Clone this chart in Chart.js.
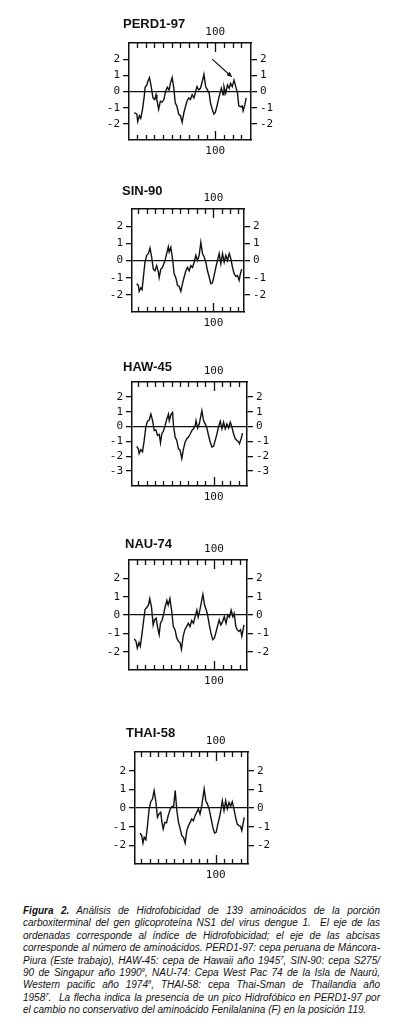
<!DOCTYPE html>
<html lang="es">
<head>
  <meta charset="UTF-8" />
  <title>Figura 2 - Hidrofobicidad NS1 dengue 1</title>
  <script src="https://cdn.jsdelivr.net/npm/chart.js"></script>
  <style>
    body {
      margin: 0;
      background: #fff;
      width: 400px;
      height: 1030px;
      position: relative;
      overflow: hidden;
    }
    canvas { position: absolute; left: 90px; }
    .title {
      position: absolute;
      font: bold 13px "Liberation Sans", Arial, sans-serif;
      color: #111;
      line-height: 13px;
      z-index: 2;
    }
    .caption {
      position: absolute;
      left: 23px;
      top: 905px;
      width: 357px;
      font: italic 10px "Liberation Sans", Arial, sans-serif;
      color: #111;
    }
    .caption div {
      line-height: 12.4px;
      text-align: justify;
      text-align-last: justify;
    }
    .caption div.last { text-align-last: left; }
    .caption sup { font-size: 6px; line-height: 0; }
  </style>
</head>
<body>
  <div class="title" style="left:123px; top:17px;">PERD1-97</div>
  <div class="title" style="left:122px; top:184px;">SIN-90</div>
  <div class="title" style="left:123px; top:360px;">HAW-45</div>
  <div class="title" style="left:125px; top:537px;">NAU-74</div>
  <div class="title" style="left:126px; top:726px;">THAI-58</div>

  <canvas id="perd"></canvas>
  <canvas id="sin"></canvas>
  <canvas id="haw"></canvas>
  <canvas id="nau"></canvas>
  <canvas id="thai"></canvas>

  <div class="caption">
    <div><b>Figura 2.</b> Análisis de Hidrofobicidad de 139 aminoácidos de la porción</div>
    <div>carboxiterminal del gen glicoproteína NS1 del virus dengue 1.&nbsp; El eje de las</div>
    <div>ordenadas corresponde al índice de Hidrofobicidad; el eje de las abcisas</div>
    <div>corresponde al número de aminoácidos. PERD1-97: cepa peruana de Máncora-</div>
    <div>Piura (Este trabajo), HAW-45: cepa de Hawaii año 1945<sup>7</sup>, SIN-90: cepa S275/</div>
    <div>90 de Singapur año 1990<sup>9</sup>, NAU-74: Cepa West Pac 74 de la Isla de Naurú,</div>
    <div>Western pacific año 1974<sup>8</sup>, THAI-58: cepa Thai-Sman de Thailandia año</div>
    <div>1958<sup>7</sup>.&nbsp; La flecha indica la presencia de un pico Hidrofóbico en PERD1-97 por</div>
    <div class="last">el cambio no conservativo del aminoácido Fenilalanina (F) en la posición 119.</div>
  </div>

  <script>
    // posición del aminoácido (eje x) e índice de hidrofobicidad (eje y)
    const perdRes = [7,10,11,13,14.5,16.5,18.5,19.5,21.5,22.5,24.5,26.5,28.5,30.5,32,33,35,37,39,41,43,45,47,48.5,50.5,52.5,54,56,58,60,62,64,66,67.5,69.5,71.5,73.5,75.5,77,79,81,83,85,87,89,91,93,94.5,96.5,98.5,100,102,104,106,107,109,110,112,114,116,117.5,119.5,121.5,123.5,125.5,127,129,131,132,134,135.5];
    const perdHyd = [-1.3,-1.4,-1.86,-1.5,-1.66,-1.1,-0.3,0.26,0.4,0.6,0.86,0.3,-0.4,-0.5,-0.2,-0.5,-1.1,-0.6,-0.66,-0.5,0,0.26,0.1,0.5,0.86,0.2,-0.7,-0.9,-1.4,-1.5,-1.9,-1.3,-0.9,-0.6,-0.4,-0.5,-0.2,-0.4,-0.1,0.3,0.1,0.2,0.6,1.06,0.3,0.1,-0.1,-0.7,-1.1,-1.4,-1.3,-0.9,-0.4,0,0.2,-0.2,0.3,-0.1,0.4,0.2,0.5,0.3,0.7,0.3,-0.1,-0.9,-0.94,-0.9,-1.2,-0.8,-0.4];

    const sinRes = [8,10,11,13,14.5,16,18,20,22,24,26,28,30,32,34,35,37,39,42,44,46,47,49,51,53,55,57,59,61,63,65,67,69,71,73,75,77,79,81,83,85,87,89,91,93,95,97,99,101,103,105,107,109,111,113,115,117,119,121,123,125,127,129,131,132.5,134];
    const sinHyd = [-1.35,-1.45,-1.8,-1.6,-1.7,-1.0,-0.1,0.3,0.4,0.73,0.2,-0.5,-0.6,-0.3,-0.67,-1.0,-0.5,-0.4,0,0.4,0.8,0.5,0.77,0.1,-0.77,-1.0,-1.45,-1.5,-1.8,-1.35,-0.96,-0.6,-0.4,-0.6,-0.3,-0.4,-0.1,0.3,0,0.3,1.06,0.4,0.2,-0.1,-0.6,-0.96,-1.35,-1.3,-0.87,-0.4,0,0.4,-0.2,0.4,-0.1,0.3,0,0.4,0.1,-0.4,-0.77,-0.92,-0.87,-1.15,-0.77,-0.5];

    const hawRes = [8,10,11,13,15,17,19,21,23,25,27,29,31,33,35,36.5,38,40,42,44,46,47,49,51,52,54,56,58,60,62,64,66,68,70,72,74,76,78,79,81,83,86,88,90,92,94,96,98,100,102,104,106,108,110,112,114,116,118,120,122,124,126,128,130,131,133,134.5];
    const hawHyd = [-1.33,-1.5,-1.82,-1.55,-1.7,-0.93,0,0.36,0.44,0.84,0.4,-0.27,-0.22,-0.6,-0.53,-1.1,-0.5,-0.3,0.07,0.5,0.84,0.4,0.8,0.95,0.07,-0.7,-0.93,-1.5,-1.6,-2.15,-1.5,-1.04,-0.82,-0.7,-0.5,-0.27,-0.15,0.07,0.4,-0.1,0.2,1.07,0.4,0.18,-0.1,-0.6,-1.04,-1.38,-1.33,-0.93,-0.5,0,0.36,-0.15,0.3,-0.15,0.18,-0.1,0.3,-0.05,-0.5,-0.82,-0.93,-1.04,-1.15,-0.82,-0.44];

    const nauRes = [7,9,10.5,12.5,14,16,18,19.5,21.5,23.5,25,27,29,30.5,32.5,34,36,37.5,39.5,41,43,45,46.5,48.5,50.5,52.5,54.5,56.5,58.5,60.5,62,64,66,68,70,72,74,76,78,80,81.5,83.5,87,89,91,92.5,94.5,96.5,98.5,100.5,102.5,104.5,106,108,110,112,114,116,118,120,122,123.5,125.5,127,129,131,132.5,134,135];
    const nauHyd = [-1.3,-1.43,-1.8,-1.5,-1.7,-1.0,-0.27,0.3,0.41,0.54,0.9,0.45,-0.54,-0.27,-0.18,-0.63,-1.07,-0.45,-0.27,0,0.45,0.8,0.54,0.9,0.27,-0.63,-0.8,-1.25,-1.43,-1.52,-1.87,-1.16,-0.8,-0.63,-0.45,-0.63,-0.3,-0.45,-0.09,0.27,-0.12,0.27,1.12,0.54,0.27,0,-0.54,-1.0,-1.34,-1.25,-0.9,-0.54,-0.27,-0.54,-0.36,-0.09,-0.45,0,-0.12,0.27,-0.09,0.09,-0.63,-0.8,-0.9,-0.8,-1.16,-0.8,-0.54];

    const thaiRes = [8.5,10.5,12,13.5,15.5,17.5,19.5,21.5,23.5,25.5,27.5,29.5,31.5,33.5,35,36.5,38.5,40.5,42.5,45,47,49,51,53,55,57,59,61,63,65,67,69,71,73,75,77,79,81,83,86,88,90,92,94.5,96.5,98.5,100.5,102.5,104.5,106.5,108,110,112,114,116,118,120,122,124,126,128,130,131.5,133,134.5];
    const thaiHyd = [-1.34,-1.48,-1.88,-1.57,-1.7,-0.95,-0.05,0.34,0.48,0.93,0.39,-0.5,-0.32,-0.23,-0.77,-1.12,-0.77,-0.8,-0.41,-0.05,0.09,0.04,0.93,-0.14,-0.77,-1.12,-1.48,-1.57,-1.88,-1.21,-0.95,-0.77,-0.59,-0.68,-0.41,-0.23,-0.05,-0.32,0.09,1.02,0.39,0.21,-0.05,-0.59,-1.04,-1.34,-1.3,-0.86,-0.5,-0.05,0.39,-0.14,0.39,-0.05,0.3,0.09,0.34,-0.05,-0.5,-0.86,-0.95,-0.98,-1.21,-0.86,-0.5];

    // marcas y etiquetas de los ejes
    const residueTicks = [10,20,30,40,50,60,70,80,90,100,110,120,130,140];
    const residueLabels = [100];
    const hydLabels = [-2,-1,0,1,2];
    const hydLabelsHaw = [-3,-2,-1,0,1,2];

    // flecha de PERD1-97 (cola y punta en coordenadas de datos)
    const arrowTail = [96.5, 2.0];
    const arrowHead = [119.5, 0.88];

    const INK = '#111';

    // marcas hacia adentro arriba y abajo, y la flecha
    const framePlugin = {
      id: 'frame',
      afterDraw(chart, args, opts) {
        const { ctx, chartArea: a } = chart;
        const x = chart.scales.x, y = chart.scales.y;
        ctx.save();
        ctx.strokeStyle = INK;
        ctx.lineWidth = 1.3;
        ctx.beginPath();
        residueTicks.forEach(v => {
          const px = Math.round(x.getPixelForValue(v)) + 0.5;
          if (px <= a.left + 1 || px >= a.right - 1) return;
          const len = v === 100 ? 9 : 5;
          ctx.moveTo(px, a.top);
          ctx.lineTo(px, a.top + len);
          ctx.moveTo(px, a.bottom);
          ctx.lineTo(px, a.bottom - len);
        });
        ctx.stroke();

        if (opts.arrow) {
          const x0 = x.getPixelForValue(arrowTail[0]), y0 = y.getPixelForValue(arrowTail[1]);
          const x1 = x.getPixelForValue(arrowHead[0]), y1 = y.getPixelForValue(arrowHead[1]);
          const ang = Math.atan2(y1 - y0, x1 - x0);
          ctx.lineWidth = 1.2;
          ctx.beginPath();
          ctx.moveTo(x0, y0);
          ctx.lineTo(x1 - 3 * Math.cos(ang), y1 - 3 * Math.sin(ang));
          ctx.stroke();
          ctx.fillStyle = INK;
          ctx.beginPath();
          ctx.moveTo(x1, y1);
          ctx.lineTo(x1 - 6 * Math.cos(ang - 0.4), y1 - 6 * Math.sin(ang - 0.4));
          ctx.lineTo(x1 - 6 * Math.cos(ang + 0.4), y1 - 6 * Math.sin(ang + 0.4));
          ctx.closePath();
          ctx.fill();
        }
        ctx.restore();
      }
    };

    Chart.defaults.font.family = '"DejaVu Sans Mono", monospace';
    Chart.defaults.font.size = 11;
    Chart.defaults.color = INK;

    function drawPanel(id, res, hyd, box, xRange, yRange, yLabels, arrow) {
      const canvas = document.getElementById(id);
      const top = box.top - 30;
      const height = box.bottom - box.top + 50;
      canvas.width = 200;
      canvas.height = height;
      canvas.style.top = top + 'px';
      canvas.style.width = '200px';
      canvas.style.height = height + 'px';

      const border = { display: true, color: INK, width: 1.5 };
      const xAxis = (pos, h, pad) => ({
        type: 'linear',
        position: pos,
        min: xRange[0],
        max: xRange[1],
        afterBuildTicks: s => { s.ticks = residueLabels.map(v => ({ value: v })); },
        afterFit: s => { s.height = h; },
        grid: { display: false, drawTicks: false },
        border: border,
        ticks: { padding: pad, maxRotation: 0, autoSkip: false, callback: v => String(v) }
      });
      const yAxis = (pos, w, onArea) => ({
        type: 'linear',
        position: pos,
        min: yRange[0],
        max: yRange[1],
        afterBuildTicks: s => { s.ticks = yLabels.map(v => ({ value: v })); },
        afterFit: s => { s.width = w; },
        grid: {
          drawOnChartArea: onArea,
          color: c => (c.tick && c.tick.value === 0) ? INK : 'rgba(0,0,0,0)',
          lineWidth: 1.3,
          tickColor: INK,
          tickLength: 6
        },
        border: border,
        ticks: { padding: 3, callback: v => String(v) }
      });

      new Chart(canvas, {
        type: 'line',
        data: {
          datasets: [{
            data: res.map((r, i) => ({ x: r, y: hyd[i] })),
            borderColor: INK,
            borderWidth: 1.4,
            pointRadius: 0,
            tension: 0,
            fill: false
          }]
        },
        options: {
          responsive: false,
          animation: false,
          devicePixelRatio: 1,
          layout: { padding: 0 },
          plugins: { legend: { display: false }, tooltip: { enabled: false }, frame: { arrow: arrow } },
          scales: {
            x: xAxis('bottom', 20, 5),
            xTop: xAxis('top', 30, 4),
            y: yAxis('left', box.left - 90, true),
            y2: yAxis('right', 290 - box.right, false)
          }
        },
        plugins: [framePlugin]
      });
    }

    drawPanel('perd', perdRes, perdHyd, { left: 129, right: 251, top: 43, bottom: 140 }, [1, 141], [-3, 3], hydLabels, true);
    drawPanel('sin', sinRes, sinHyd, { left: 132, right: 244, top: 209, bottom: 312 }, [2.4, 136.8], [-3, 3], hydLabels, false);
    drawPanel('haw', hawRes, hawHyd, { left: 132, right: 247, top: 382, bottom: 486 }, [2.4, 140], [-4, 3], hydLabelsHaw, false);
    drawPanel('nau', nauRes, nauHyd, { left: 129, right: 247, top: 560, bottom: 670 }, [0.8, 138.5], [-3, 3], hydLabels, false);
    drawPanel('thai', thaiRes, thaiHyd, { left: 135, right: 248, top: 752, bottom: 864 }, [2.4, 139], [-3, 3], hydLabels, false);
  </script>
</body>
</html>
